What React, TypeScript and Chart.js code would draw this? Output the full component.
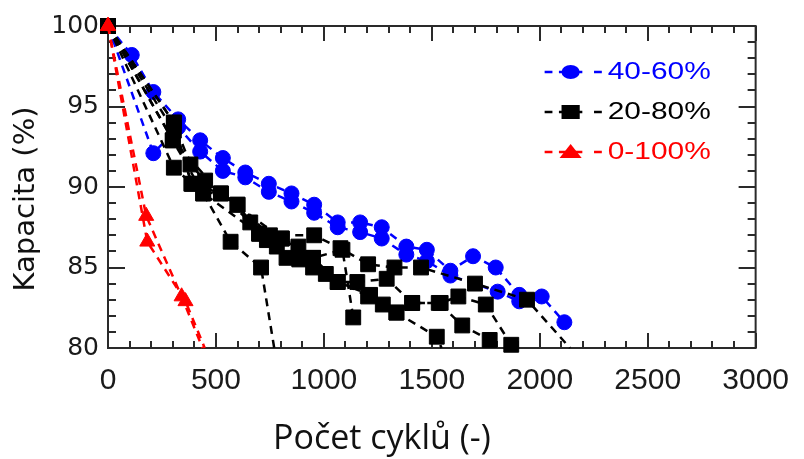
import React, { useEffect, useRef } from 'react';
import { Chart, registerables } from 'chart.js';

Chart.register(...registerables);

// ---- Data (cycles, capacity %) ----
const blue1: [number, number][] = [
  [0, 100], [110, 98.2], [210, 95.9], [325, 94.2], [427, 92.9], [532, 91.8], [636, 90.9],
  [745, 90.2], [850, 89.6], [955, 88.9], [1064, 87.8], [1168, 87.8], [1268, 87.5],
  [1382, 86.3], [1477, 86.1], [1586, 84.8], [1691, 85.7], [1796, 85.0], [1905, 83.3],
];
const blue2: [number, number][] = [
  [0, 100], [210, 92.1], [325, 93.7], [427, 92.2], [532, 91.0], [636, 90.6], [745, 89.7],
  [850, 89.1], [955, 88.4], [1064, 87.5], [1168, 87.2], [1268, 86.8], [1382, 85.8],
  [1477, 85.4], [1586, 84.5], [1805, 83.5], [1905, 82.9], [2009, 83.2], [2114, 81.6],
];
const black1: [number, number][] = [
  [0, 100], [305, 94.0], [382, 91.4], [450, 90.4], [600, 88.9], [750, 87.0], [955, 87.0],
  [1077, 86.2], [1205, 85.2], [1327, 85.0], [1450, 85.0], [1700, 84.0], [1941, 83.0], [2140, 80],
];
const black2: [number, number][] = [
  [0, 100], [305, 93.5], [390, 90.2], [523, 89.6], [659, 87.8], [736, 86.7], [827, 85.6],
  [950, 85.0], [1064, 84.1], [1155, 84.1], [1291, 84.3], [1409, 82.8], [1541, 82.8],
  [1623, 83.2], [1750, 82.7], [1868, 80.2],
];
const black3: [number, number][] = [
  [0, 100], [300, 92.9], [441, 89.6], [700, 87.1], [782, 86.3], [886, 85.5], [1009, 84.6],
  [1205, 83.2], [1273, 82.7], [1336, 82.2], [1523, 80.7], [1545, 80],
];
const black4: [number, number][] = [
  [0, 100], [305, 91.2], [441, 89.6], [568, 86.6], [709, 85.0], [770, 80],
];
const black5: [number, number][] = [
  [0, 100], [300, 92.9], [523, 89.6], [805, 86.8], [882, 86.3], [950, 85.6], [1086, 86.1], [1136, 81.9],
];
const black6: [number, number][] = [
  [0, 100], [305, 94.0], [386, 90.2], [600, 88.9], [700, 87.1], [805, 86.8], [950, 85.6],
  [1064, 84.1], [1214, 83.3], [1336, 82.2], [1409, 82.8], [1532, 82.8], [1641, 81.4], [1768, 80.5],
];
const red1: [number, number][] = [[0, 100], [177, 88.2], [341, 83.2], [438, 80]];
const red2: [number, number][] = [[0, 100], [182, 86.6], [359, 82.9], [448, 80]];

const legendLabels = ['40-60%', '20-80%', '0-100%'];
const legendColors = ['#0000ff', '#000000', '#ff0000'];
const legendShapes = ['circle', 'rect', 'triangle'];

const xAxisTitle = 'Počet cyklů (-)';
const yAxisTitle = 'Kapacita (%)';

const X_MIN = 0, X_MAX = 3000, X_MAJOR = 500, X_MINOR = 100;
const Y_MIN = 80, Y_MAX = 100, Y_MAJOR = 5, Y_MINOR = 1;

function mk(data: [number, number][], color: string, style: string, radius: number) {
  return {
    data: data.map(([x, y]) => ({ x, y })),
    showLine: true,
    borderColor: color,
    backgroundColor: color,
    borderWidth: 2.5,
    borderDash: [8, 6],
    pointStyle: style,
    pointRadius: (c: any) => (c.raw && c.raw.y <= Y_MIN ? 0 : radius),
    pointBackgroundColor: color,
    pointBorderColor: color,
    pointBorderWidth: 1,
    clip: false,
    tension: 0,
  };
}

function drawMarker(ctx: CanvasRenderingContext2D, shape: string, x: number, y: number, color: string) {
  ctx.fillStyle = color;
  ctx.beginPath();
  if (shape === 'circle') {
    ctx.arc(x, y, 7, 0, Math.PI * 2);
  } else if (shape === 'rect') {
    ctx.rect(x - 7, y - 7, 14, 14);
  } else {
    ctx.moveTo(x, y - 8);
    ctx.lineTo(x + 8.5, y + 6);
    ctx.lineTo(x - 8.5, y + 6);
    ctx.closePath();
  }
  ctx.fill();
}

const framePlugin = {
  id: 'frameTicks',
  beforeDatasetsDraw(chart: any) {
    const { ctx, chartArea: a, scales } = chart;
    const xs = scales.x, ys = scales.y;
    ctx.save();
    ctx.strokeStyle = '#2a2a2a';
    ctx.lineWidth = 2;
    ctx.strokeRect(a.left, a.top, a.right - a.left, a.bottom - a.top);
    ctx.lineWidth = 2;
    ctx.beginPath();
    for (let v = X_MIN; v <= X_MAX; v += X_MINOR) {
      const px = Math.round(xs.getPixelForValue(v));
      const len = v % X_MAJOR === 0 ? 15 : 7;
      ctx.moveTo(px, a.bottom); ctx.lineTo(px, a.bottom - len);
      ctx.moveTo(px, a.top); ctx.lineTo(px, a.top + len);
    }
    for (let v = Y_MIN; v <= Y_MAX; v += Y_MINOR) {
      const py = Math.round(ys.getPixelForValue(v));
      const len = v % Y_MAJOR === 0 ? 17 : 8;
      ctx.moveTo(a.left, py); ctx.lineTo(a.left + len, py);
      ctx.moveTo(a.right, py); ctx.lineTo(a.right - len, py);
    }
    ctx.stroke();
    ctx.restore();
  },
  afterDraw(chart: any) {
    const { ctx, chartArea: a } = chart;
    ctx.save();
    // legend
    const x0 = a.right - 211;
    legendLabels.forEach((label, i) => {
      const ry = a.top + 46 + i * 40;
      const color = legendColors[i];
      ctx.save();
      ctx.translate(x0, ry);
      ctx.scale(1.3, 1);
      ctx.strokeStyle = color;
      ctx.lineWidth = 2.5;
      ctx.beginPath();
      ctx.moveTo(0, 0); ctx.lineTo(6, 0);
      ctx.moveTo(11, 0); ctx.lineTo(29, 0);
      ctx.moveTo(38, 0); ctx.lineTo(44, 0);
      ctx.stroke();
      drawMarker(ctx, legendShapes[i], 20, 0, color);
      ctx.fillStyle = color;
      ctx.font = '23px "Liberation Sans", Arial, sans-serif';
      ctx.textAlign = 'left';
      ctx.textBaseline = 'middle';
      ctx.fillText(label, 48.5, 1);
      ctx.restore();
    });
    // x axis title
    ctx.fillStyle = '#111';
    ctx.font = '34px "Open Sans", sans-serif';
    ctx.textAlign = 'left';
    ctx.textBaseline = 'alphabetic';
    ctx.fillText(xAxisTitle, 273, 449);
    // y axis title
    ctx.save();
    ctx.translate(26, 199);
    ctx.rotate(-Math.PI / 2);
    ctx.font = '29px "DejaVu Sans", sans-serif';
    ctx.textAlign = 'center';
    ctx.textBaseline = 'middle';
    ctx.fillStyle = '#111';
    ctx.fillText(yAxisTitle, 0, 0);
    ctx.restore();
    ctx.restore();
  },
};

export default function App() {
  const ref = useRef<HTMLCanvasElement | null>(null);
  useEffect(() => {
    if (!ref.current) return;
    const chart = new Chart(ref.current, {
      type: 'scatter',
      data: {
        datasets: [
          mk(red1, '#ff0000', 'triangle', 8.7),
          mk(red2, '#ff0000', 'triangle', 8.7),
          mk(black1, '#000000', 'rect', 10.5),
          mk(black2, '#000000', 'rect', 10.5),
          mk(black3, '#000000', 'rect', 10.5),
          mk(black4, '#000000', 'rect', 10.5),
          mk(black5, '#000000', 'rect', 10.5),
          mk(black6, '#000000', 'rect', 10.5),
          mk(blue1, '#0000ff', 'circle', 7.5),
          mk(blue2, '#0000ff', 'circle', 7.5),
        ] as any,
      },
      options: {
        animation: false,
        responsive: false,
        maintainAspectRatio: false,
        devicePixelRatio: 1,
        layout: { padding: { top: 26, right: 36, bottom: 60, left: 0 } },
        plugins: { legend: { display: false }, tooltip: { enabled: false } },
        scales: {
          x: {
            type: 'linear',
            min: X_MIN,
            max: X_MAX,
            grid: { display: false, drawTicks: false },
            border: { display: false },
            ticks: {
              stepSize: X_MAJOR,
              padding: 15,
              autoSkip: false,
              maxRotation: 0,
              color: '#1a1a1a',
              font: { family: '"Liberation Sans", Arial, sans-serif', size: 30 },
              callback: (v: any) => String(v),
            },
            afterFit: (s: any) => { s.height = 51; },
          },
          y: {
            type: 'linear',
            min: Y_MIN,
            max: Y_MAX,
            grid: { display: false, drawTicks: false },
            border: { display: false },
            ticks: {
              stepSize: Y_MAJOR,
              padding: 9,
              color: '#1a1a1a',
              font: { family: '"DejaVu Sans", sans-serif', size: 25 },
              callback: (v: any) => String(v),
            },
            afterFit: (s: any) => { s.width = 108; },
          },
        },
      } as any,
      plugins: [framePlugin],
    });
    return () => chart.destroy();
  }, []);
  return (
    <div style={{ position: 'absolute', left: 0, top: 0, width: 804, height: 459, background: '#fff' }}>
      <canvas ref={ref} width={804} height={459} style={{ display: 'block' }} />
    </div>
  );
}
